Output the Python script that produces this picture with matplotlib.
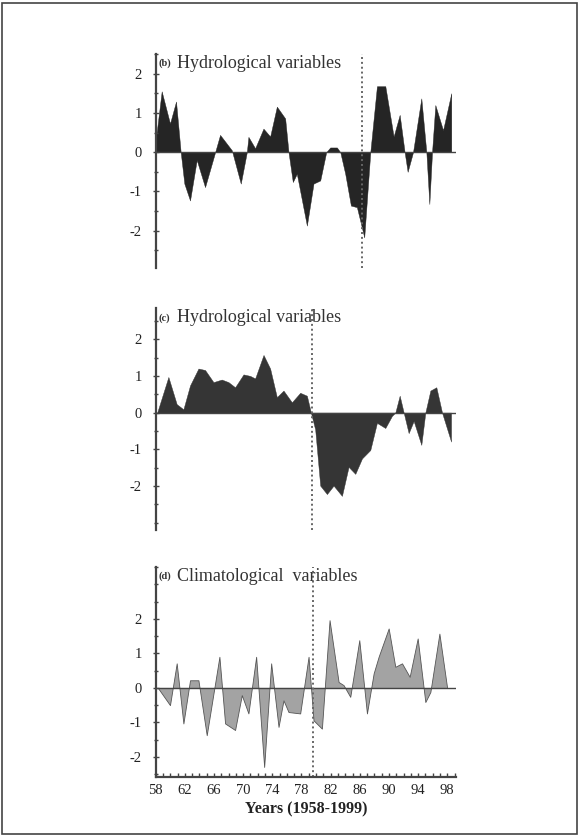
import matplotlib.pyplot as plt
from matplotlib.patches import Rectangle
from matplotlib.ticker import MultipleLocator

plt.rcParams['font.family'] = ['Liberation Serif', 'DejaVu Serif']

# panel (b) - hydrological variables, break ~1986
yrs_b = [58.0, 58.82, 59.96, 60.79, 61.43, 61.93, 62.71, 63.63, 64.77, 66.15, 66.83, 68.44,
         69.67, 70.50, 70.72, 71.64, 72.78, 73.70, 74.62, 75.76, 76.22, 76.81, 77.36, 78.74,
         79.65, 80.57, 81.39, 81.94, 82.86, 83.32, 84.00, 84.78, 85.60, 86.61, 87.44, 88.35,
         89.50, 90.64, 91.47, 92.15, 92.56, 93.30, 94.44, 95.13, 95.54, 95.91, 96.36, 97.42, 98.55]
vals_b = [0.3, 1.55, 0.73, 1.29, 0.0, -0.80, -1.23, -0.20, -0.89, 0.0, 0.44, 0.05,
          -0.80, 0.0, 0.39, 0.10, 0.60, 0.40, 1.16, 0.86, 0.0, -0.76, -0.55, -1.87,
          -0.80, -0.72, 0.0, 0.12, 0.12, 0.0, -0.55, -1.36, -1.40, -2.17, 0.0, 1.68,
          1.68, 0.40, 0.95, 0.0, -0.50, 0.0, 1.37, 0.0, -1.32, 0.0, 1.20, 0.56, 1.50]

# panel (c) - hydrological variables, break ~1979
yrs_c = [58.2, 59.74, 60.88, 61.80, 62.71, 63.86, 64.77, 65.92, 67.06, 67.98, 68.89, 70.04,
         70.95, 71.64, 72.79, 73.70, 74.62, 75.53, 76.68, 77.82, 78.74, 79.29, 79.88, 80.57,
         81.49, 82.40, 83.55, 84.46, 85.38, 86.30, 87.44, 88.35, 89.50, 90.41, 90.87, 91.47,
         92.02, 92.70, 93.39, 94.44, 94.99, 95.68, 96.50, 97.28, 98.52]
vals_c = [0.0, 0.97, 0.23, 0.09, 0.74, 1.20, 1.16, 0.83, 0.90, 0.83, 0.69, 1.04,
          1.00, 0.93, 1.57, 1.20, 0.42, 0.60, 0.28, 0.54, 0.46, 0.0, -0.46, -1.99,
          -2.22, -1.99, -2.27, -1.48, -1.67, -1.25, -1.02, -0.28, -0.42, -0.09, 0.0, 0.46,
          0.0, -0.56, -0.23, -0.88, 0.0, 0.60, 0.69, 0.0, -0.79]

# panel (d) - climatological variables
yrs_d = [58.3, 59.96, 60.88, 61.80, 62.71, 63.86, 65.00, 66.74, 67.52, 68.89, 69.81, 70.72,
         71.78, 72.88, 73.84, 74.85, 75.53, 76.22, 77.82, 78.97, 79.65, 80.80, 81.85, 83.09,
         83.77, 84.69, 85.93, 86.98, 87.90, 88.58, 89.96, 90.87, 91.79, 92.84, 93.94, 94.99,
         95.68, 96.92, 97.98]
vals_d = [0.0, -0.50, 0.71, -1.03, 0.22, 0.22, -1.37, 0.90, -1.03, -1.22, -0.21, -0.74,
          0.90, -2.29, 0.71, -1.13, -0.36, -0.70, -0.74, 0.90, -0.94, -1.18, 1.96, 0.17,
          0.08, -0.26, 1.38, -0.74, 0.42, 0.90, 1.72, 0.61, 0.71, 0.32, 1.43, -0.41,
          -0.12, 1.57, 0.0]

break_b = 86.3
break_c = 79.4
break_d = 79.6

xticks = [58, 62, 66, 70, 74, 78, 82, 86, 90, 94, 98]
yticks = [-2, -1, 0, 1, 2]
ytick_labels = ['-2', '-1', '0', '1', '2']

fig = plt.figure(figsize=(5.79, 8.36), dpi=100)
fig.patches.append(Rectangle((0.003, 0.002), 0.993, 0.995, transform=fig.transFigure,
                             fill=False, edgecolor='#444444', linewidth=1.2))

panels = [
    ([0.2689, 0.6794, 0.5187, 0.2560], yrs_b, vals_b, break_b, (-2.95, 2.5), '#252525', None, '(b)', 'Hydrological variables'),
    ([0.2689, 0.3660, 0.5187, 0.2656], yrs_c, vals_c, break_c, (-3.2, 2.85), '#353535', None, '(c)', 'Hydrological variables'),
    ([0.2689, 0.0706, 0.5187, 0.2512], yrs_d, vals_d, break_d, (-2.58, 3.5), '#a3a3a3', '#555555', '(d)', 'Climatological  variables'),
]

for i, (pos, xs, ys, brk, ylim, fc, ec, tag, title) in enumerate(panels):
    ax = fig.add_axes(pos)
    ax.fill_between(xs, ys, 0, facecolor=fc, edgecolor=ec if ec else fc, linewidth=0.6 if ec else 0.3)
    ax.axhline(0, color='#444444', linewidth=1.0)
    ax.axvline(brk, color='#666666', linestyle=(0, (1, 1.5)), linewidth=1.4)
    ax.set_xlim(58, 99.2)
    ax.set_ylim(*ylim)
    ax.set_yticks(yticks)
    ax.set_yticklabels(ytick_labels, fontsize=10.5)
    ax.yaxis.set_minor_locator(MultipleLocator(0.5))
    ax.tick_params(axis='y', which='both', direction='inout', length=4, width=1,
                   color='#444444', labelcolor='#222222', pad=8)
    ax.tick_params(axis='y', which='minor', length=3)
    for s in ['top', 'right']:
        ax.spines[s].set_visible(False)
    ax.spines['left'].set_color('#444444')
    ax.spines['left'].set_linewidth(1.6)
    if i < 2:
        ax.spines['bottom'].set_visible(False)
        ax.set_xticks([])
    else:
        ax.spines['bottom'].set_color('#444444')
        ax.spines['bottom'].set_linewidth(1.6)
        ax.set_xticks(xticks)
        ax.set_xticklabels([str(t) for t in xticks], fontsize=10.5)
        ax.xaxis.set_minor_locator(MultipleLocator(1))
        ax.tick_params(axis='x', which='both', direction='in', length=3, width=1,
                       color='#444444', labelcolor='#222222', pad=5)
        ax.set_xlabel('Years (1958-1999)', fontsize=11.5, fontweight='bold', labelpad=3, color='#222222')
    ax.text(0.008, 0.955, tag, transform=ax.transAxes, fontsize=7.5, fontweight='bold',
            va='center', ha='left', color='#333333')
    ax.text(0.072, 0.955, title, transform=ax.transAxes, fontsize=13,
            va='center', ha='left', color='#333333')

plt.savefig('out.png', dpi=100)
